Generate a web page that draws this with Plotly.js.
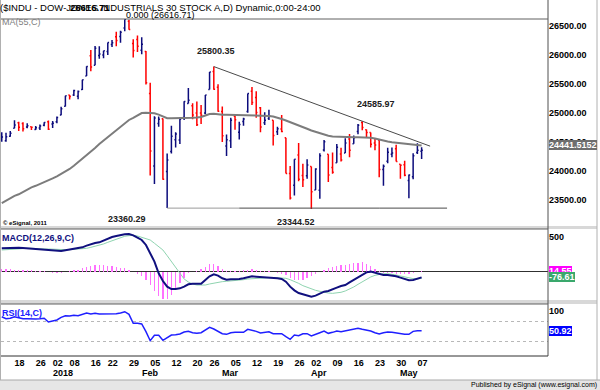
<!DOCTYPE html>
<html><head><meta charset="utf-8">
<script src="https://cdn.plot.ly/plotly-3.0.1.min.js"></script>
<style>html,body{margin:0;padding:0;background:#fff;}#chart{width:600px;height:390px;}</style>
</head><body><div id="chart"></div>
<script>
const dates = ["2017-12-13","2017-12-14","2017-12-15","2017-12-18","2017-12-19","2017-12-20","2017-12-21","2017-12-22","2017-12-26","2017-12-27","2017-12-28","2017-12-29",
"2018-01-02","2018-01-03","2018-01-04","2018-01-05","2018-01-08","2018-01-09","2018-01-10","2018-01-11","2018-01-12","2018-01-16","2018-01-17","2018-01-18","2018-01-19","2018-01-22","2018-01-23","2018-01-24","2018-01-25","2018-01-26","2018-01-29","2018-01-30","2018-01-31",
"2018-02-01","2018-02-02","2018-02-05","2018-02-06","2018-02-07","2018-02-08","2018-02-09","2018-02-12","2018-02-13","2018-02-14","2018-02-15","2018-02-16","2018-02-20","2018-02-21","2018-02-22","2018-02-23","2018-02-26","2018-02-27","2018-02-28",
"2018-03-01","2018-03-02","2018-03-05","2018-03-06","2018-03-07","2018-03-08","2018-03-09","2018-03-12","2018-03-13","2018-03-14","2018-03-15","2018-03-16","2018-03-19","2018-03-20","2018-03-21","2018-03-22","2018-03-23","2018-03-26","2018-03-27","2018-03-28","2018-03-29",
"2018-04-02","2018-04-03","2018-04-04","2018-04-05","2018-04-06","2018-04-09","2018-04-10","2018-04-11","2018-04-12","2018-04-13","2018-04-16","2018-04-17","2018-04-18","2018-04-19","2018-04-20","2018-04-23","2018-04-24","2018-04-25","2018-04-26","2018-04-27","2018-04-30",
"2018-05-01","2018-05-02","2018-05-03","2018-05-04","2018-05-07","2018-05-08"];

const opens = [24540,24520,24600,24739,24832,24818,24760,24762,24715,24740,
24790,24849,24809,24850,24965,25115,25309,25312,25290,25405,
25638,25988,25823,25990,26000,26060,26180,26313,26317,26467,
26584,26198,26268,26083,26062,25338,24085,24820,24903,23993,
24337,24541,24535,24923,25165,25124,25001,25000,25002,25405,
25714,25445,25025,24430,24520,24942,24670,24855,25026,25374,
25268,25092,24834,24904,24873,24677,24726,24574,23958,23753,
24274,23921,23917,24076,23674,23668,24364,24291,24060,24144,
24295,24312,24554,24470,24682,24836,24712,24663,24483,24535,
24026,24170,24290,24382,24118,24109,23836,23902,24317,24341];
const highs = [24668,24660,24690,24876,24850,24840,24822,24766,24778,24803,
24840,24871,24864,24941,25106,25299,25311,25401,25388,25575,
25804,26086,26154,26153,26072,26215,26260,26400,26420,26616.71,
26608,26273,26338,26306,26071,25520,24946,24940,24904,24300,
24780,24668,24925,25204,25432,25169,25200,25139,25310,25709,
25800.35,25496,25113,24631,24918,24961,24849,24917,25336,25449,
25376,25102,25013,25057,24873,24764,24965,24574,24088,24203,
24481,24127,24203,24076,24046,24305,24533,24291,24318,24465,
24400,24564,24637,24613,24811,24858.97,24714,24663,24565,24535,
24112,24399,24404,24453,24118,24175,23939,24305,24477,24411];
const lows = [24505,24504,24590,24739,24690,24680,24736,24707,24707,24709,
24772,24707,24741,24825,24963,25113,25235,25292,25236,25398,
25638,25720,25822,25934,25943,26000,26140,26152,26213,26408,
26435,25958,26050,26014,25490,23924,23778,24762,23849,23360.29,
24300,24407,24466,24880,25165,24891,24776,24811,24979,25405,
25400,25022,24499,24258,24396,24711,24542,24779,25003,25139,
24918,24669,24794,24881,24440,24622,24668,23957,23509,23578,
23825,23723,23867,23344.52,23672,23523,24335,23809,23951,24144,
24163,24312,24236,24470,24635,24704,24586,24404,24359,23894,
23746,24133,24236,24164,23868,23910,23532,23856,24293,24208];
const closes = [24585,24590,24652,24792,24755,24727,24782,24754,24746,24774,
24838,24719,24824,24923,25075,25296,25283,25386,25369,25575,
25803,25793,26116,26018,26072,26215,26211,26252,26393,26616.71,
26439,26077,26149,26187,25521,24346,24913,24893,23860,24191,
24601,24640,24893,25200,25219,24965,24798,24962,25310,25709,
25410,25029,24609,24538,24875,24884,24801,24895,25336,25179,
25007,24758,24874,24947,24611,24727,24682,23958,23533,24203,
23858,23848,24103,23644,24033,24264,24505,23933,23979,24408,
24189,24483,24360,24573,24787,24748,24665,24463,24449,24024,
24084,24322,24311,24163,24099,23925,23930,24263,24357,24360];

const ma55 = [23445,23492,23538,23571,23599,23642,23685,23719,23745,23774,
23802,23831,23873,23909,23950,23985,24035,24091,24150,24207,
24264,24331,24397,24466,24526,24587,24647,24707,24764,24824,
24880,24917,24960,25000,25005,25005,24997,24973,24940,24911,
24909,24909,24909,24911,24914,24919,24924,24931,24957,24983,
24986,24974,24968,24970,24969,24966,24964,24965,24967,24966,
24963,24960,24955,24950,24938,24922,24897,24871,24845,24819,
24793,24759,24728,24698,24673,24647,24624,24607,24595,24590,
24586,24583,24581,24582,24581,24580,24580,24573,24561,24540,
24523,24509,24497,24488,24478,24468,24462,24455,24448,24441.5152];

const macdLine = [338,343,343,348,348,343,338,333,329,324,
319,310,305,300,300,310,319,329,338,352,
376,400,414,424,452,476,500,514,529,538,
543,524,490,457,386,267,148,-19,-129,-209,
-243,-243,-233,-209,-176,-167,-171,-167,-114,-62,
-33,-52,-90,-110,-105,-105,-100,-90,-71,-62,
-67,-71,-76,-76,-86,-90,-100,-138,-209,-262,
-300,-319,-333,-352,-338,-305,-281,-271,-243,-224,
-200,-186,-148,-114,-76,-43,-5,5,-10,-33,
-43,-43,-48,-62,-81,-105,-119,-114,-90,-76.61];
const signalLine = [314,319,324,329,333,338,338,338,333,333,
329,329,324,324,319,319,319,324,324,329,
338,352,367,381,400,424,448,467,490,510,
519,524,514,495,476,457,410,362,314,233,
148,62,-24,-100,-143,-171,-186,-190,-186,-171,
-157,-148,-138,-133,-129,-124,-119,-110,-100,-95,
-90,-86,-81,-81,-81,-81,-81,-90,-110,-133,
-162,-195,-219,-243,-262,-276,-290,-300,-305,-300,
-290,-271,-248,-214,-176,-138,-105,-71,-48,-33,
-24,-24,-29,-43,-57,-71,-86,-95,-100,-91.16];
const histogram = [48,45,40,35,30,30,28,25,20,15,
10,-5,-12,-15,-10,5,20,30,35,50,
70,85,100,105,100,90,80,70,60,50,
30,5,-30,-60,-110,-190,-270,-340,-390,-390,
-330,-250,-160,-80,-20,5,20,40,65,110,
120,90,45,15,15,20,18,25,35,45,
30,20,15,10,5,-10,-25,-40,-80,-110,
-115,-110,-90,-60,-30,0,30,55,70,85,
95,100,115,125,135,140,110,80,40,15,
-10,-20,-20,-25,-30,-35,-35,-20,5,14.55];
const rsi14 = [79,75,76,79,77,75,75,74.4,74.4,75,
76,68.4,69.7,72.4,77.7,81,80.4,81.7,81,84.4,
86.4,84.4,85.7,84.4,84.4,85.7,85.7,85,86.4,89,
83.7,65.7,65.7,64.4,49,31,41.7,41.7,31.7,36.4,
42.4,43,44.4,48.4,49.7,47,45.7,47,51.7,57.7,
54.4,49,45,43.7,47,47.7,47.7,47.7,53.7,52.4,
49.7,46.4,48.4,49,45,45.7,45,39,33.7,42.4,
41,45,45,40.4,44.4,47,50.4,45.7,47.7,50.4,
49,51,51.7,53.7,55.7,53.7,52.4,50.4,47,44.4,
47,48.4,47.7,46.4,44.4,43.7,43.7,49.7,51,50.92];

const tickDates = ["2017-12-18","2017-12-26","2018-01-02","2018-01-08","2018-01-16","2018-01-22","2018-01-29","2018-02-05","2018-02-12","2018-02-20","2018-02-26","2018-03-05","2018-03-12","2018-03-19","2018-03-26","2018-04-02","2018-04-09","2018-04-16","2018-04-23","2018-04-30","2018-05-07"];
const tickLabels = ["18","26","02","08","16","22","29","05","12","20","26","05","12","19","26","02","09","16","23","30","07"];
const monthDates = ["2018-01-02","2018-02-01","2018-03-01","2018-04-02","2018-05-01"];
const monthLabels = ["2018","Feb","Mar","Apr","May"];

const F = 'Liberation Sans, Arial, sans-serif';
const L = 1, R = 548, T = 19, B = 356;
const px = X => (X - L) / (R - L);
const py = Y => (B - Y) / (B - T);
const idx = d => dates.indexOf(d);
const last = a => a[a.length - 1];

const NAVY = '#0c0c7c', RED = '#ff0000';

const traces = [
  {type:'ohlc', x:dates, open:opens, high:highs, low:lows, close:closes, xaxis:'x', yaxis:'y',
   increasing:{line:{color:NAVY, width:1.5}}, decreasing:{line:{color:RED, width:1.5}}, tickwidth:0.3, hoverinfo:'skip'},
  {type:'scatter', mode:'lines', x:dates, y:ma55, yaxis:'y', line:{color:'#7c7c7c', width:2}, hoverinfo:'skip'},
  {type:'bar', x:dates, y:histogram, yaxis:'y2', width:0.3, marker:{color:'#ff70ff', line:{width:0}}, hoverinfo:'skip'},
  {type:'scatter', mode:'lines', x:dates, y:signalLine, yaxis:'y2', line:{color:'#8fd4b0', width:1}, hoverinfo:'skip'},
  {type:'scatter', mode:'lines', x:dates, y:macdLine, yaxis:'y2', line:{color:'#10107e', width:2}, hoverinfo:'skip'},
  {type:'scatter', mode:'lines', x:dates, y:rsi14, yaxis:'y3', line:{color:'#1f1fff', width:1.5}, hoverinfo:'skip'}
];

// trendline through the Feb 27 and Apr 18 highs, extended past the last bar
const tA = idx('2018-02-27'), tB = idx('2018-04-18');
const slope = (highs[tB] - highs[tA]) / (tB - tA);
const tEnd = dates.length + 1;
const support = lows[idx('2018-02-09')];

const shapes = [
  {type:'rect', xref:'paper', yref:'paper', x0:px(0), x1:px(600), y0:py(390), y1:py(380), fillcolor:'#e6e6e6', line:{width:0}, layer:'below'},
  {type:'line', xref:'paper', yref:'paper', x0:px(0), x1:px(600), y0:py(380), y1:py(380), line:{color:'#a8a8a8', width:1}},
  {type:'rect', xref:'paper', yref:'paper', x0:px(0), x1:px(597), y0:py(229), y1:py(226), fillcolor:'#d8d8d8', line:{width:0}},
  {type:'rect', xref:'paper', yref:'paper', x0:px(0), x1:px(597), y0:py(304), y1:py(300), fillcolor:'#d8d8d8', line:{width:0}},
  {type:'line', xref:'paper', yref:'paper', x0:px(597), x1:px(597), y0:py(380), y1:py(0), line:{color:'#b0b0b0', width:1}},
  {type:'line', xref:'paper', yref:'paper', x0:px(0.5), x1:px(0.5), y0:py(380), y1:py(0), line:{color:'#b0b0b0', width:1}},
  {type:'line', xref:'paper', yref:'paper', x0:1, x1:1, y0:py(356), y1:py(0), line:{color:'#505050', width:1}},
  {type:'line', xref:'paper', yref:'paper', x0:0, x1:1, y0:1, y1:1, line:{color:'#606060', width:1}},
  {type:'line', xref:'paper', yref:'paper', x0:0, x1:1, y0:py(229), y1:py(229), line:{color:'#606060', width:1}},
  {type:'line', xref:'paper', yref:'paper', x0:0, x1:1, y0:py(304), y1:py(304), line:{color:'#606060', width:1}},
  {type:'line', xref:'paper', yref:'paper', x0:0, x1:1, y0:0, y1:0, line:{color:'#303030', width:1}},
  {type:'line', xref:'x', yref:'y', x0:tA, y0:highs[tA], x1:tEnd, y1:highs[tA] + slope * (tEnd - tA), line:{color:'#4a4a4a', width:1}},
  {type:'line', xref:'x', yref:'y', x0:idx('2018-02-09'), y0:support, x1:idx('2018-03-07'), y1:support, line:{color:'#9a9a9a', width:1}},
  {type:'line', xref:'x', yref:'y', x0:idx('2018-03-07'), y0:support, x1:idx('2018-04-24'), y1:support, line:{color:'#4a4a4a', width:1}},
  {type:'line', xref:'x', yref:'y', x0:idx('2018-04-24'), y0:support, x1:dates.length + 5, y1:support, line:{color:'#4a4a4a', width:1}}
];

const ann = [];
function note(text, o) {
  ann.push(Object.assign({text:text, showarrow:false, xref:'paper', yref:'paper', xanchor:'left', yanchor:'middle',
    borderpad:0, borderwidth:0, font:{family:F, size:9, color:'#000'}}, o));
}
note('($INDU - DOW-JONES INDUSTRIALS 30 STOCK A,D) Dynamic,0:00-24:00', {x:px(0), y:py(7), font:{family:F, size:9.5, color:'#000'}});
note(highs[idx('2018-01-26')].toFixed(2), {x:px(90), y:py(7), xanchor:'center', font:{family:F, size:9.5, color:'#000', weight:'bold'}});
note('0.000 (' + highs[idx('2018-01-26')].toFixed(2) + ')', {x:px(126), y:py(15)});
note('MA(55,C)', {x:px(2), y:py(22), font:{family:F, size:9, color:'#808080'}});
note('© eSignal, 2011', {x:px(3), y:py(223), font:{family:F, size:6, color:'#000', weight:'bold'}});
note('MACD(12,26,9,C)', {x:px(2), y:py(238), font:{family:F, size:9, color:'#10107e', weight:'bold'}});
note('RSI(14,C)', {x:px(2), y:py(313), font:{family:F, size:9, color:'#2020ff', weight:'bold'}});
note('Published by eSignal (www.esignal.com)', {x:px(597), y:py(385), xanchor:'right', font:{family:F, size:7, color:'#000'}});

monthDates.forEach((d, i) => note(monthLabels[i], {xref:'x', x:idx(d), y:py(373), font:{family:F, size:9, color:'#000', weight:'bold'}}));

const B9 = {family:F, size:9, color:'#202020', weight:'bold'};
note(highs[idx('2018-02-27')].toFixed(2), {xref:'x', yref:'y', x:idx('2018-02-27'), y:highs[idx('2018-02-27')], xanchor:'center', xshift:2, yshift:16, font:B9});
note(lows[idx('2018-02-09')].toFixed(2), {xref:'x', yref:'y', x:idx('2018-02-09'), y:lows[idx('2018-02-09')], xanchor:'center', xshift:-40, yshift:-11, font:B9});
note(lows[idx('2018-04-02')].toFixed(2), {xref:'x', yref:'y', x:idx('2018-04-02'), y:lows[idx('2018-04-02')], xanchor:'center', xshift:-15, yshift:-13, font:B9});
note('24585.97', {xref:'x', yref:'y', x:idx('2018-04-18'), y:highs[idx('2018-04-18')], xanchor:'center', xshift:14, yshift:17, font:B9});

const W9 = {family:F, size:9, color:'#fff', weight:'bold'};
note(last(ma55).toFixed(4), {x:1, yref:'y', y:last(ma55), xshift:1, bgcolor:'#6e6e6e', font:W9});
note(last(histogram).toFixed(2), {x:1, yref:'y2', y:last(histogram), xshift:1, bgcolor:'#ff00ff', font:W9});
note(last(macdLine).toFixed(2), {x:1, yref:'y2', y:last(macdLine), xshift:1, bgcolor:'#3aa86c', font:W9});
note('100', {x:1, yref:'y3', y:100, xshift:1, yshift:-5, font:{family:F, size:9, color:'#000', weight:'bold'}});
note('0', {x:1, yref:'y3', y:0, xshift:1, yshift:5, font:{family:F, size:9, color:'#000', weight:'bold'}});
note(last(rsi14).toFixed(2), {x:1, yref:'y3', y:last(rsi14), xshift:1, bgcolor:'#0000ff', font:W9});

const tickFont = {family:F, size:9, color:'#000', weight:'bold'};
const layout = {
  width:600, height:390,
  margin:{l:L, r:600 - R, t:T, b:390 - B, pad:0},
  paper_bgcolor:'#ffffff', plot_bgcolor:'#ffffff',
  showlegend:false, hovermode:false, bargap:0,
  font:{family:F, size:9, color:'#000'},
  xaxis:{type:'category', anchor:'y3', range:[-0.18, 128.8], rangeslider:{visible:false},
    tickmode:'array', tickvals:tickDates, ticktext:tickLabels, ticklabelshift:5,
    ticks:'', showgrid:false, zeroline:false, showline:false, tickfont:tickFont},
  yaxis:{domain:[py(226), 1], range:[23052, 26620.7], side:'right', anchor:'x',
    tick0:23500, dtick:500, tickformat:'.2f', ticks:'', showgrid:false, zeroline:false, showline:false, tickfont:tickFont},
  yaxis2:{domain:[py(300), py(229)], range:[-400, 614], side:'right', anchor:'x',
    tick0:0, dtick:500, tickformat:'d', ticks:'', showgrid:false, zeroline:true, zerolinecolor:'#303030', zerolinewidth:1, showline:false, tickfont:tickFont},
  yaxis3:{domain:[0, py(304)], range:[0.4, 104.4], side:'right', anchor:'x',
    tickmode:'array', tickvals:[30, 70], showticklabels:false, ticks:'', showgrid:true, gridcolor:'#b8b8b8', griddash:'dot', gridwidth:1, zeroline:false, showline:false},
  shapes:shapes,
  annotations:ann
};
Plotly.newPlot('chart', traces, layout, {staticPlot:true});
</script></body></html>
